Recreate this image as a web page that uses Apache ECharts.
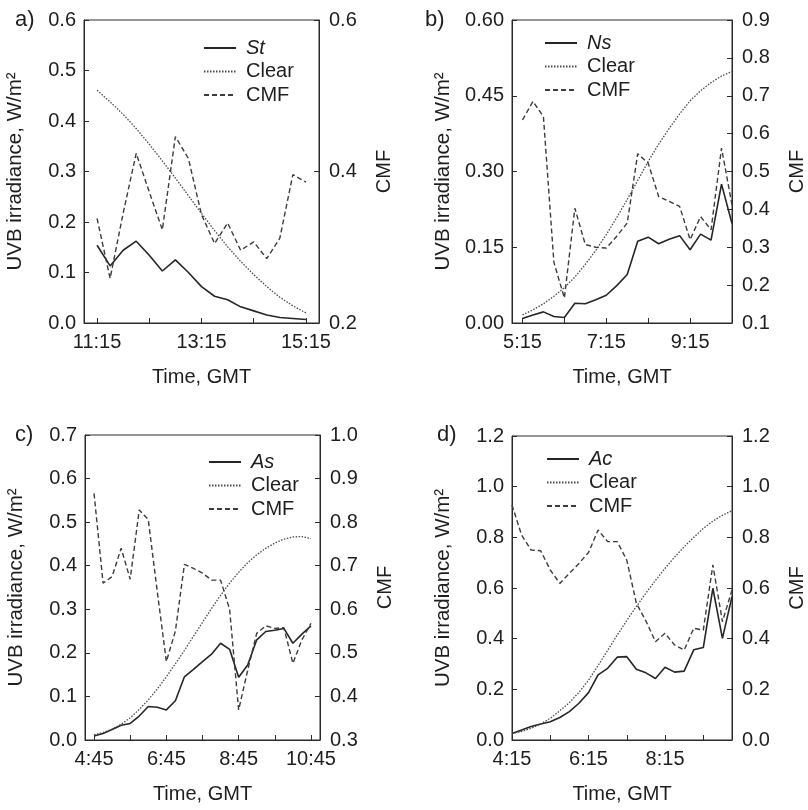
<!DOCTYPE html>
<html>
<head>
<meta charset="utf-8">
<script src="https://cdn.jsdelivr.net/npm/echarts@6/dist/echarts.min.js"></script>
<style>
  html, body { margin: 0; padding: 0; background: #ffffff; }
  #chart { width: 808px; height: 810px; }
</style>
</head>
<body>
<div id="chart"></div>
<script>
// ---- Panel a) St ----
const timesA = ['11:15','11:30','11:45','12:00','12:15','12:30','12:45','13:00','13:15',
                '13:30','13:45','14:00','14:15','14:30','14:45','15:00','15:15'];
const cloudA = [0.154,0.113,0.144,0.162,0.134,0.103,0.125,0.100,0.072,0.053,0.046,0.032,0.024,0.016,0.011,0.009,0.007];
const clearA = [0.461,0.438,0.413,0.385,0.354,0.321,0.287,0.252,0.217,0.183,0.151,0.122,0.096,0.072,0.051,0.034,0.020];
const cmfA   = [0.338,0.259,0.345,0.424,0.373,0.323,0.446,0.417,0.343,0.305,0.332,0.296,0.307,0.285,0.312,0.396,0.386];
const tickTimesA  = ['11:15','12:15','13:15','14:15','15:15'];
const labelTimesA = ['11:15','13:15','15:15'];

// ---- Panel b) Ns ----
const timesB = ['5:15','5:30','5:45','6:00','6:15','6:30','6:45','7:00','7:15','7:30','7:45',
                '8:00','8:15','8:30','8:45','9:00','9:15','9:30','9:45','10:00','10:15'];
const cloudB = [0.009,0.016,0.022,0.013,0.011,0.039,0.038,0.046,0.055,0.074,0.096,0.162,0.170,0.157,0.166,0.173,0.145,0.176,0.164,0.275,0.197];
const clearB = [0.016,0.026,0.038,0.053,0.070,0.091,0.116,0.144,0.175,0.209,0.245,0.282,0.320,0.354,0.385,0.414,0.440,0.460,0.476,0.489,0.498];
const cmfB   = [0.636,0.685,0.645,0.260,0.166,0.403,0.307,0.300,0.298,0.329,0.364,0.547,0.522,0.434,0.421,0.408,0.320,0.381,0.346,0.562,0.412];
const tickTimesB  = ['5:15','6:15','7:15','8:15','9:15','10:15'];
const labelTimesB = ['5:15','7:15','9:15'];

// ---- Panel c) As ----
const timesC = ['4:45','5:00','5:15','5:30','5:45','6:00','6:15','6:30','6:45','7:00','7:15','7:30','7:45',
                '8:00','8:15','8:30','8:45','9:00','9:15','9:30','9:45','10:00','10:15','10:30','10:45'];
const cloudC = [0.009,0.015,0.024,0.034,0.038,0.055,0.077,0.075,0.069,0.090,0.145,0.162,0.180,0.197,0.222,0.208,0.144,0.172,0.230,0.249,0.252,0.256,0.222,0.243,0.262];
const clearC = [0.012,0.017,0.025,0.036,0.051,0.070,0.092,0.117,0.145,0.175,0.206,0.238,0.270,0.302,0.332,0.360,0.385,0.407,0.425,0.440,0.452,0.461,0.466,0.467,0.462];
const cmfC   = [0.866,0.660,0.675,0.740,0.669,0.828,0.806,0.640,0.480,0.550,0.703,0.694,0.683,0.667,0.667,0.600,0.369,0.460,0.545,0.562,0.556,0.558,0.476,0.530,0.568];
const tickTimesC  = ['4:45','5:45','6:45','7:45','8:45','9:45','10:45'];
const labelTimesC = ['4:45','6:45','8:45','10:45'];

// ---- Panel d) Ac ----
const timesD = ['4:15','4:30','4:45','5:00','5:15','5:30','5:45','6:00','6:15','6:30','6:45','7:00',
                '7:15','7:30','7:45','8:00','8:15','8:30','8:45','9:00','9:15','9:30','9:45','10:00'];
const cloudD = [0.026,0.039,0.053,0.063,0.072,0.089,0.112,0.145,0.187,0.257,0.283,0.327,0.329,0.279,0.265,0.243,0.287,0.268,0.272,0.356,0.365,0.599,0.401,0.566];
const clearD = [0.026,0.034,0.046,0.063,0.086,0.115,0.148,0.188,0.236,0.294,0.354,0.414,0.472,0.527,0.580,0.630,0.678,0.722,0.763,0.800,0.835,0.864,0.887,0.905];
const cmfD   = [0.928,0.809,0.750,0.747,0.671,0.618,0.658,0.697,0.740,0.829,0.783,0.783,0.710,0.540,0.470,0.388,0.421,0.375,0.355,0.441,0.434,0.691,0.467,0.592];
const tickTimesD  = ['4:15','5:15','6:15','7:15','8:15','9:15'];
const labelTimesD = ['4:15','6:15','8:15'];

const FONT = "'Liberation Sans', Arial, Helvetica, sans-serif";
const TEXT = '#1e1e1e';
const INK = '#2a2a2a';

function toMin(t) { const p = t.split(':'); return (+p[0]) * 60 + (+p[1]); }
function fmtTime(v) {
  const h = Math.floor(v / 60), m = Math.round(v - h * 60);
  return h + ':' + (m < 10 ? '0' : '') + m;
}
function pairs(times, vals) { return times.map((t, i) => [toMin(t), vals[i]]); }

const panels = [
  { tag: 'a)', cloud: 'St', times: timesA, cloudV: cloudA, clearV: clearA, cmfV: cmfA,
    ticks: tickTimesA, labels: labelTimesA, xMin: '11:00', xMax: '15:30',
    grid: { left: 84, top: 20, width: 235, height: 303 },
    yL: { min: 0, max: 0.6, interval: 0.1, dec: 1 }, yR: { min: 0.2, max: 0.6, interval: 0.2, dec: 1 },
    tagPos: [15, 9], legendPos: [203, 38] },
  { tag: 'b)', cloud: 'Ns', times: timesB, cloudV: cloudB, clearV: clearB, cmfV: cmfB,
    ticks: tickTimesB, labels: labelTimesB, xMin: '5:00', xMax: '10:15',
    grid: { left: 512, top: 20, width: 224, height: 303 },
    yL: { min: 0, max: 0.6, interval: 0.15, dec: 2 }, yR: { min: 0.1, max: 0.9, interval: 0.1, dec: 1 },
    tagPos: [425, 9], legendPos: [544, 33] },
  { tag: 'c)', cloud: 'As', times: timesC, cloudV: cloudC, clearV: clearC, cmfV: cmfC,
    ticks: tickTimesC, labels: labelTimesC, xMin: '4:30', xMax: '11:00',
    grid: { left: 85, top: 435, width: 235, height: 305 },
    yL: { min: 0, max: 0.7, interval: 0.1, dec: 1 }, yR: { min: 0.3, max: 1.0, interval: 0.1, dec: 1 },
    tagPos: [15, 424], legendPos: [208, 452] },
  { tag: 'd)', cloud: 'Ac', times: timesD, cloudV: cloudD, clearV: clearD, cmfV: cmfD,
    ticks: tickTimesD, labels: labelTimesD, xMin: '4:15', xMax: '10:00',
    grid: { left: 512, top: 436, width: 223, height: 304 },
    yL: { min: 0, max: 1.2, interval: 0.2, dec: 1 }, yR: { min: 0, max: 1.2, interval: 0.2, dec: 1 },
    tagPos: [437, 424], legendPos: [546, 449] }
];

const grid = [], xAxis = [], yAxis = [], series = [], legend = [], title = [];
const tickStyle = { show: true, inside: true, length: 5, lineStyle: { color: INK, width: 1 } };
const lineAxis = { show: true, lineStyle: { color: INK, width: 1 } };
const labelText = { fontFamily: FONT, fontSize: 20, color: TEXT };

panels.forEach((p, k) => {
  grid.push(Object.assign({ show: true, borderColor: INK, borderWidth: 1, containLabel: false }, p.grid));
  xAxis.push({
    type: 'value', gridIndex: k, min: toMin(p.xMin), max: toMin(p.xMax),
    name: 'Time, GMT', nameLocation: 'middle', nameGap: 44,
    nameTextStyle: { fontFamily: FONT, fontSize: 20, color: TEXT },
    axisLine: lineAxis, axisTick: Object.assign({ customValues: p.ticks.map(toMin) }, tickStyle),
    axisLabel: Object.assign({ customValues: p.labels.map(toMin), margin: 9, formatter: fmtTime }, labelText),
    splitLine: { show: false }
  });
  yAxis.push({
    type: 'value', gridIndex: k, position: 'left', min: p.yL.min, max: p.yL.max, interval: p.yL.interval,
    name: 'UVB irradiance, W/m²', nameLocation: 'middle', nameGap: 58,
    nameTextStyle: { fontFamily: FONT, fontSize: 20.5, color: TEXT },
    axisLine: lineAxis, axisTick: tickStyle,
    axisLabel: Object.assign({ margin: 8, formatter: v => v.toFixed(p.yL.dec) }, labelText),
    splitLine: { show: false }
  });
  yAxis.push({
    type: 'value', gridIndex: k, position: 'right', min: p.yR.min, max: p.yR.max, interval: p.yR.interval,
    name: 'CMF', nameLocation: 'middle', nameGap: 55,
    nameTextStyle: { fontFamily: FONT, fontSize: 20, color: TEXT },
    axisLine: lineAxis, axisTick: tickStyle,
    axisLabel: Object.assign({ margin: 10, formatter: v => v.toFixed(p.yR.dec) }, labelText),
    splitLine: { show: false }
  });
  const base = { type: 'line', xAxisIndex: k, showSymbol: false, symbol: 'none', silent: true, animation: false };
  series.push(Object.assign({}, base, { name: p.cloud, yAxisIndex: 2 * k,
    data: pairs(p.times, p.cloudV), lineStyle: { color: '#262626', width: 1.6, type: 'solid' }, itemStyle: { color: '#262626' } }));
  series.push(Object.assign({}, base, { name: 'Clear', yAxisIndex: 2 * k,
    data: pairs(p.times, p.clearV), lineStyle: { color: '#4a4a4a', width: 1.3, type: [1.5, 1.5] }, itemStyle: { color: '#4a4a4a' } }));
  series.push(Object.assign({}, base, { name: 'CMF', yAxisIndex: 2 * k + 1,
    data: pairs(p.times, p.cmfV), lineStyle: { color: '#3c3c3c', width: 1.4, type: [5, 3] }, itemStyle: { color: '#3c3c3c' } }));
  legend.push({
    orient: 'vertical', left: p.legendPos[0], top: p.legendPos[1], padding: 0,
    itemWidth: 32, itemHeight: 12, itemGap: 3.5, selectedMode: false,
    itemStyle: { color: 'rgba(0,0,0,0)', borderColor: 'rgba(0,0,0,0)', borderWidth: 0 },
    textStyle: { fontFamily: FONT, fontSize: 20, color: TEXT, lineHeight: 20, padding: [0, 0, 0, 5] },
    data: [{ name: p.cloud, textStyle: { fontStyle: 'italic' } }, { name: 'Clear' }, { name: 'CMF' }]
  });
  title.push({ text: p.tag, left: p.tagPos[0], top: p.tagPos[1], padding: 0,
    textStyle: { fontFamily: FONT, fontSize: 22, fontWeight: 'normal', color: TEXT } });
});

const chart = echarts.init(document.getElementById('chart'), null, { renderer: 'canvas' });
chart.setOption({ animation: false, backgroundColor: '#ffffff', title, grid, xAxis, yAxis, legend, series });
</script>
</body>
</html>
